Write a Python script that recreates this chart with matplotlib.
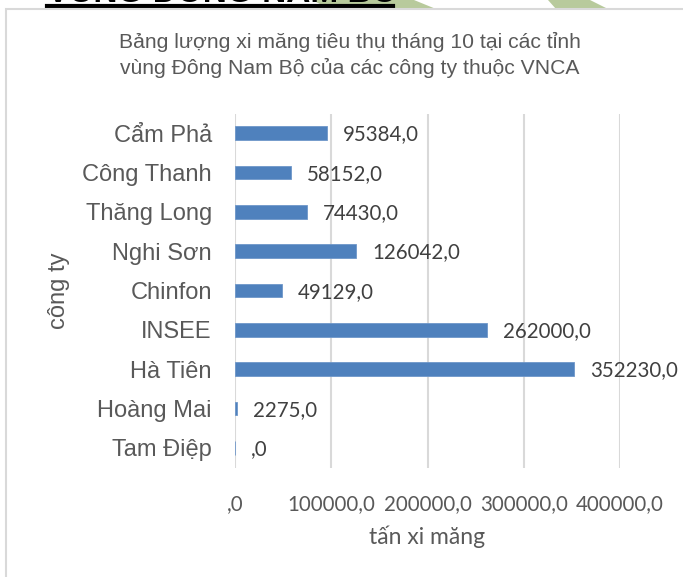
import matplotlib
matplotlib.use("Agg")
import matplotlib.pyplot as plt
from matplotlib.patches import Polygon, Rectangle
from matplotlib.lines import Line2D

# ---- data ----
companies = ["Tam Điệp", "Hoàng Mai", "Hà Tiên", "INSEE", "Chinfon",
             "Nghi Sơn", "Thăng Long", "Công Thanh", "Cẩm Phả"]
values = [0, 2275, 352230, 262000, 49129, 126042, 74430, 58152, 95384]
xticks = [0, 100000, 200000, 300000, 400000]
title_lines = ["Bảng lượng xi măng tiêu thụ tháng 10 tại các tỉnh",
               "vùng Đông Nam Bộ của các công ty thuộc VNCA"]
xlabel = "tấn xi măng"
ylabel = "công ty"
heading = "VÙNG ĐÔNG NAM BỘ"

plt.rcParams['font.family'] = ['Liberation Sans', 'DejaVu Sans']

W, H = 683, 577
fig = plt.figure(figsize=(W / 100, H / 100), dpi=100)
fig.patch.set_facecolor("white")


def fx(px):
    return px / W


def fy(py):
    return 1 - py / H


# background decorations (page behind chart)
green = "#b8ca9c"
for pts in ([(312, 0), (414, 0), (436, 9), (330, 9)],
            [(548, 0), (590, 0), (608, 9), (556, 9)]):
    fig.patches.append(Polygon([(fx(x), fy(y)) for x, y in pts], closed=True,
                               transform=fig.transFigure, facecolor=green,
                               edgecolor="none", zorder=0))
fig.text(fx(47), fy(2), heading, fontsize=24, fontweight="bold", color="black",
         ha="left", va="baseline", zorder=1)
fig.lines.append(Line2D([fx(47), fx(393)], [fy(6), fy(6)], transform=fig.transFigure,
                        color="black", linewidth=3, zorder=2))

# chart area box
fig.patches.append(Rectangle((fx(6), fy(590)), fx(700) - fx(6), fy(9) - fy(590),
                             transform=fig.transFigure, facecolor="white",
                             edgecolor="#d9d9d9", linewidth=1.5, zorder=3))

ax = fig.add_axes([fx(235), fy(467.5), fx(620) - fx(235), (467.5 - 113.5) / H])
ax.set_zorder(5)
ax.patch.set_alpha(0)

ypos = list(range(len(companies)))
ax.barh(ypos, values, height=0.355, color="#4f81bd", edgecolor="#6f97c9",
        linewidth=0.6, zorder=3)

ax.set_xlim(0, 400000)
ax.set_ylim(-0.5, len(companies) - 0.5)


def fmt(v):
    s = f"{v:.1f}".replace(".", ",")
    if s.startswith("0,"):
        s = s[1:]
    return s


ax.set_xticks(xticks)
ax.set_xticklabels([fmt(t) for t in xticks], family=['Lato', 'DejaVu Sans'],
                   fontsize=14.8, color="#595959")
ax.set_yticks(ypos)
ax.set_yticklabels(companies, fontsize=17, color="#595959")
ax.tick_params(axis="x", length=0, pad=19)
ax.tick_params(axis="y", length=0, pad=16.6)
for s in ax.spines.values():
    s.set_visible(False)
ax.grid(axis="x", color="#d9d9d9", linewidth=1.5, zorder=0)
ax.set_axisbelow(True)

for y, v in zip(ypos, values):
    ax.annotate(fmt(v), xy=(v, y), xytext=(11.5, -1), textcoords="offset points",
                ha="left", va="center", family=['Lato', 'DejaVu Sans'],
                fontsize=14.8, color="#404040", zorder=4)

fig.text(fx(349.5), fy(42), title_lines[0], fontsize=15.2, color="#595959",
         ha="center", va="center", zorder=6)
fig.text(fx(349.5), fy(68), title_lines[1], fontsize=15.2, color="#595959",
         ha="center", va="center", zorder=6)
fig.text(fx(427.5), fy(537), xlabel, family=['Lato', 'DejaVu Sans'], fontsize=16.5,
         color="#595959", ha="center", va="center", zorder=6)
fig.text(fx(59), fy(291), ylabel, fontsize=17, color="#595959", rotation=90,
         ha="center", va="center", zorder=6)

fig.savefig("out.png", dpi=100)
